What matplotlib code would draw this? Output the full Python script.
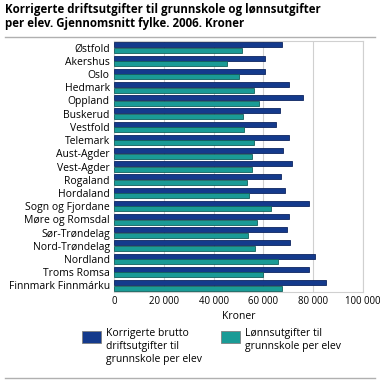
import matplotlib.pyplot as plt
import numpy as np
from matplotlib.patches import Rectangle
from matplotlib.lines import Line2D

counties = ['Østfold', 'Akershus', 'Oslo', 'Hedmark', 'Oppland', 'Buskerud',
            'Vestfold', 'Telemark', 'Aust-Agder', 'Vest-Agder', 'Rogaland',
            'Hordaland', 'Sogn og Fjordane', 'Møre og Romsdal', 'Sør-Trøndelag',
            'Nord-Trøndelag', 'Nordland', 'Troms Romsa', 'Finnmark Finnmárku']
brutto = [67400, 60700, 60600, 70400, 76000, 66700, 65100, 70200, 67700, 71300,
          66900, 68500, 78500, 70200, 69400, 70600, 80700, 78500, 85000]
lonn = [51300, 45300, 50400, 56200, 58400, 52000, 52100, 56400, 55600, 55600,
        53600, 54100, 62900, 57600, 54000, 56600, 65700, 60000, 67400]
xticks = [0, 20000, 40000, 60000, 80000, 100000]
series_labels = ['Korrigerte brutto\ndriftsutgifter til\ngrunnskole per elev',
                 'Lønnsutgifter til\ngrunnskole per elev']

dark = '#143a8c'
teal = '#1a9b96'
plt.rcParams['font.family'] = ['Open Sans', 'DejaVu Sans']

fig = plt.figure(figsize=(3.8, 3.81), dpi=100)
W, H = 380, 381
ax = fig.add_axes([114 / W, 1 - 292 / H, (363 - 114) / W, (292 - 41) / H])

y = np.arange(len(counties))
h = 0.38
ax.barh(y - h / 2 - 0.02, brutto, height=h, color=dark, edgecolor='#0d2560', linewidth=0.6, zorder=3)
ax.barh(y + h / 2 + 0.02, lonn, height=h, color=teal, edgecolor='#13605c', linewidth=0.6, zorder=3)

ax.set_ylim(len(counties) - 0.5, -0.5)
ax.set_xlim(0, 100000)
ax.set_yticks(y)
ax.set_yticklabels(counties, fontsize=7.5)
ax.set_xticks(xticks)
ax.set_xticklabels([f'{v:,}'.replace(',', ' ') for v in xticks], fontsize=6.9)
ax.tick_params(length=0, pad=3)
ax.set_xlabel('Kroner', fontsize=7.5, labelpad=3)
ax.grid(axis='x', color='#d0d0d0', linewidth=0.8, zorder=0)
ax.set_axisbelow(True)
for s in ax.spines.values():
    s.set_color('#d0d0d0')
    s.set_linewidth(0.8)

fig.text(5 / W, 1 - 3 / H, 'Korrigerte driftsutgifter til grunnskole og lønnsutgifter\nper elev. Gjennomsnitt fylke. 2006. Kroner',
         fontsize=8.3, fontweight='bold', va='top', ha='left', linespacing=1.1)
fig.add_artist(Line2D([5 / W, 375 / W], [1 - 37 / H] * 2, color='#b0b0b0', linewidth=1))
fig.add_artist(Line2D([5 / W, 375 / W], [1 - 378 / H] * 2, color='#b0b0b0', linewidth=1))

# legend drawn by hand so the text tops line up with the swatches
for x0, col, lab in [(82, dark, series_labels[0]), (221, teal, series_labels[1])]:
    fig.add_artist(Rectangle((x0 / W, 1 - 343 / H), 19 / W, 12 / H, transform=fig.transFigure,
                             facecolor=col, edgecolor='#808080', linewidth=0.6))
    fig.text((x0 + 24) / W, 1 - 328 / H, lab, fontsize=7.5, va='top', ha='left', linespacing=1.25)

fig.savefig('out.png', dpi=100)
